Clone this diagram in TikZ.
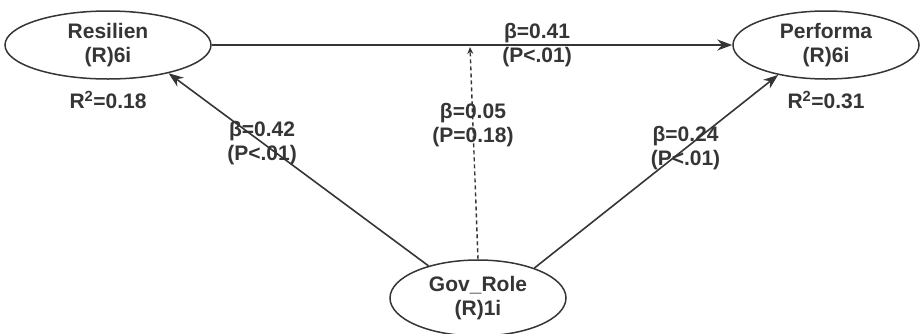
\documentclass[tikz,border=0pt]{standalone}
\usepackage{fontspec}
\setmainfont{Liberation Sans}
\usepackage{tikz}
\usetikzlibrary{arrows.meta,shapes.geometric}
\definecolor{pathgray}{HTML}{353535}
\tikzset{
  >={Stealth[length=15pt,width=11pt]},
  latent/.style={ellipse,draw=pathgray,line width=1.5pt,inner sep=0pt,
    align=center,text=pathgray,font=\fontsize{21}{24}\selectfont\bfseries},
  coef/.style={align=center,text=pathgray,inner sep=1pt,
    font=\fontsize{21}{24}\selectfont\bfseries},
}

\begin{document}
\begin{tikzpicture}[
x=1pt,y=-1pt,
->,
line width=1.6pt,
draw=pathgray
]
\useasboundingbox (0,0) rectangle (921,333);
\node[latent,minimum width=206pt,minimum height=68pt] (res) at (108,45) {Resilien\\(R)6i};
\node[latent,minimum width=186pt,minimum height=68pt] (perf) at (826,45) {Performa\\(R)6i};
\node[latent,minimum width=176pt,minimum height=76pt] (gov) at (478,298) {Gov\_Role\\(R)1i};
\node[coef] (r2res) at (108,100) {R\textsuperscript{2}=0.18};
\node[coef] (r2perf) at (826,100) {R\textsuperscript{2}=0.31};
\coordinate (mod) at (470,47);

\path
(res.east) edge node[coef,pos=0.625]{β=0.41\\(P<.01)} (perf.west)
(gov.147.5) edge node[coef,pos=0.64]{β=0.42\\(P<.01)} (res.-25.5)
(gov.28) edge node[coef,pos=0.62]{β=0.24\\(P<.01)} (perf.-148.6)
(gov.north) edge[dash pattern=on 4pt off 3pt,line width=1.4pt,-{Stealth[length=7pt,width=6pt]}] node[coef,pos=0.63]{β=0.05\\(P=0.18)} (mod);
\end{tikzpicture}
\end{document}
